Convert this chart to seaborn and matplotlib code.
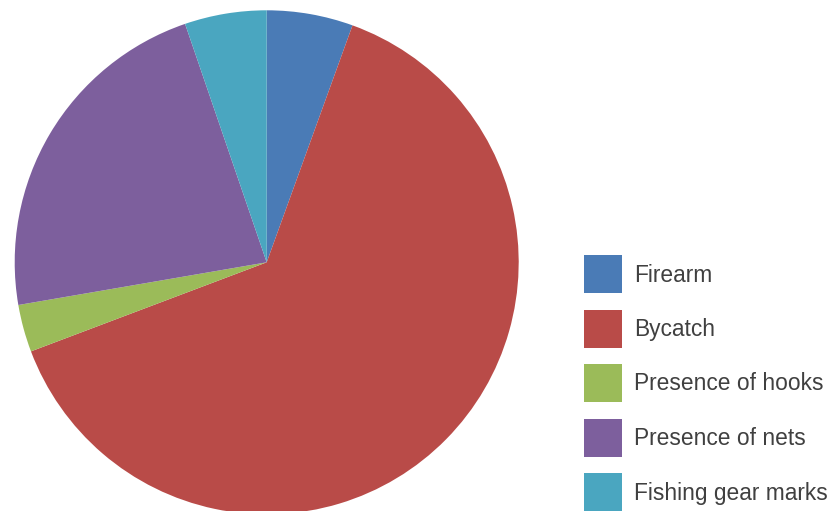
import matplotlib
matplotlib.use("Agg")
import matplotlib.pyplot as plt
from matplotlib.patches import Rectangle
import seaborn as sns

categories = ["Firearm", "Bycatch", "Presence of hooks", "Presence of nets", "Fishing gear marks"]
values = [5.53, 63.72, 3.04, 22.46, 5.25]
colors = ["#4a7bb6", "#b94b48", "#9bbb59", "#7d5f9d", "#4aa6c0"]

sns.set_theme(style="white")
plt.rcParams["font.family"] = ["Liberation Sans", "DejaVu Sans"]

W, H = 830, 511
fig = plt.figure(figsize=(W / 100, H / 100), dpi=100)
cx, cy, r = 266.7, 262.3, 252.0
ax = fig.add_axes([(cx - r) / W, (H - cy - r) / H, 2 * r / W, 2 * r / H])
wedges, _ = ax.pie(values, colors=colors, startangle=90, counterclock=False,
                   radius=1.0, wedgeprops=dict(linewidth=0))
ax.set_xlim(-1, 1)
ax.set_ylim(-1, 1)
ax.set_aspect("equal")
ax.axis("off")
for w in wedges:
    w.set_clip_on(False)

# legend drawn in figure pixel space
box, x0, y0, pitch = 38, 584, 255, 54.5
for i, (lab, col) in enumerate(zip(categories, colors)):
    top = y0 + i * pitch
    fig.patches.append(Rectangle((x0 / W, 1 - (top + box) / H), box / W, box / H,
                                 transform=fig.transFigure, facecolor=col,
                                 edgecolor="none", figure=fig))
    fig.text(634 / W, 1 - (top + box / 2 + 1) / H, lab, fontsize=16.4,
             color="#404040", va="center", ha="left")

fig.savefig("out.png", dpi=100)
